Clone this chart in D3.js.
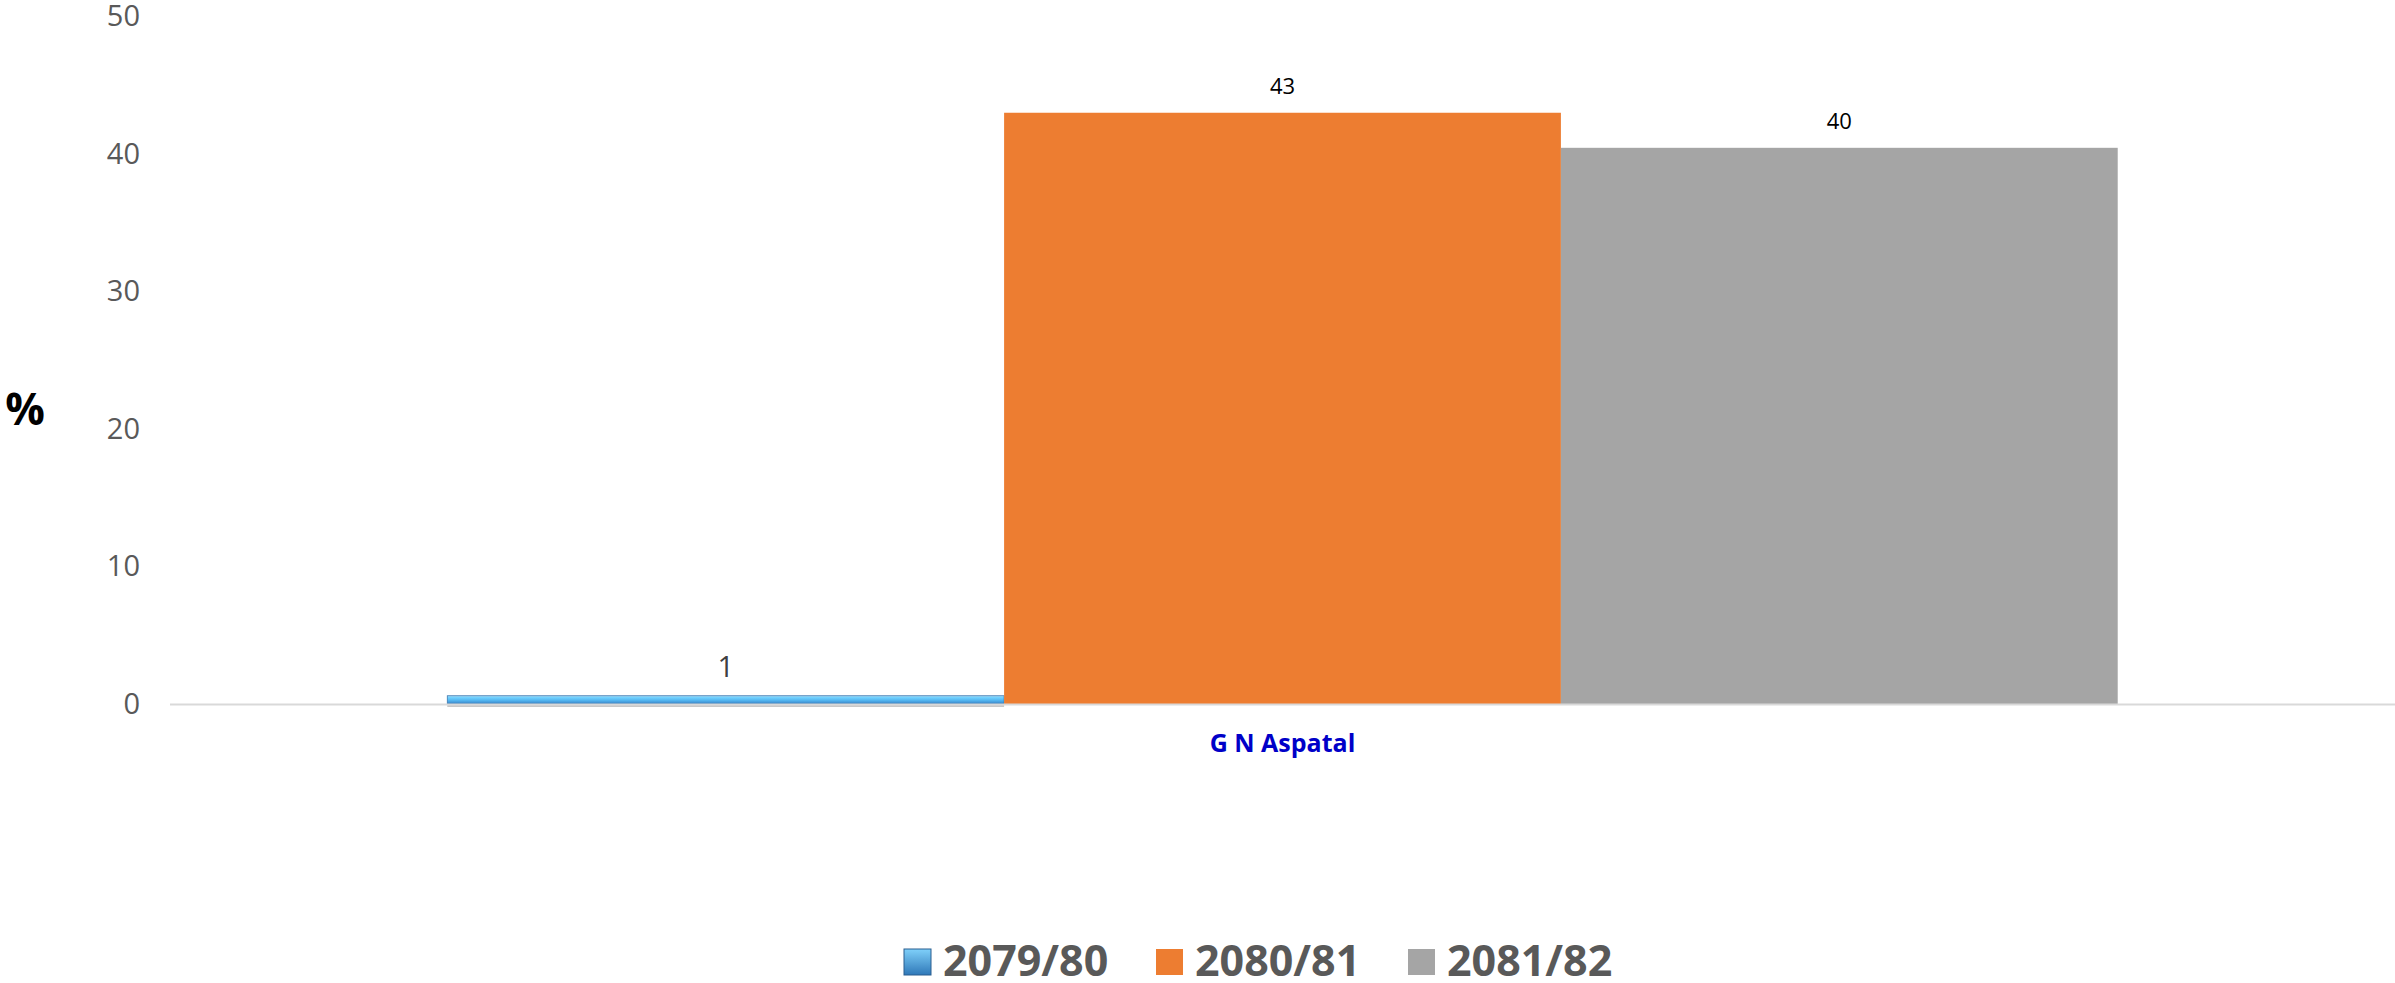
<!DOCTYPE html>
<html>
<head>
<meta charset="utf-8">
<script src="https://cdn.jsdelivr.net/npm/d3@7"></script>
<style>
  html, body { margin: 0; padding: 0; background: #fff; }
  svg { display: block; }
</style>
</head>
<body>
<svg id="chart" width="2395" height="983"></svg>
<script>
// data
var categories = ["G N Aspatal"];
var seriesNames = ["2079/80", "2080/81", "2081/82"];
var seriesValues = [0.6, 43.0, 40.45];
var seriesColors = ["url(#blueGrad)", "#ED7D31", "#A5A5A5"];
var yTicks = [0, 10, 20, 30, 40, 50];

var svg = d3.select("#chart");

// gradient for the first series (bevelled blue look)
var defs = svg.append("defs");
var g1 = defs.append("linearGradient").attr("id", "blueGrad")
  .attr("x1", 0).attr("y1", 0).attr("x2", 0).attr("y2", 1);
g1.append("stop").attr("offset", "0%").attr("stop-color", "#b5dcf2");
g1.append("stop").attr("offset", "20%").attr("stop-color", "#72d2ff");
g1.append("stop").attr("offset", "60%").attr("stop-color", "#4fb2ee");
g1.append("stop").attr("offset", "100%").attr("stop-color", "#3a7ebf");

var g2 = defs.append("linearGradient").attr("id", "blueLegend")
  .attr("x1", 0).attr("y1", 0).attr("x2", 0).attr("y2", 1);
g2.append("stop").attr("offset", "0%").attr("stop-color", "#7fd0fa");
g2.append("stop").attr("offset", "100%").attr("stop-color", "#2f78b8");

var plotLeft = 170, plotRight = 2395, baseY = 704, topY = 16.5;

var y = d3.scaleLinear().domain([0, 50]).range([baseY, topY]);
var x = d3.scaleBand().domain(categories).range([plotLeft, plotRight])
  .paddingInner(0).paddingOuter(0.166);
var xs = d3.scaleBand().domain(seriesNames).range([0, x.bandwidth()]).padding(0);

// y tick labels (no axis line)
var yAxis = d3.axisLeft(y).tickValues(yTicks).tickSize(0).tickPadding(0);
var ya = svg.append("g").attr("transform", "translate(140,0)").call(yAxis);
ya.select(".domain").remove();
ya.selectAll("text")
  .attr("font-family", "'Open Sans', sans-serif")
  .attr("font-size", 29)
  .attr("fill", "#595959");

// % title
svg.append("text")
  .attr("x", 25).attr("y", 425)
  .attr("text-anchor", "middle")
  .attr("font-family", "'Open Sans', sans-serif")
  .attr("font-weight", "bold")
  .attr("font-size", 44)
  .attr("fill", "#000")
  .text("%");

// bars
var data = seriesNames.map(function(s, i) {
  return { cat: categories[0], series: s, value: seriesValues[i], color: seriesColors[i] };
});

// soft shadow under the first bar
svg.append("rect")
  .attr("x", x(categories[0]) + xs(seriesNames[0]))
  .attr("y", baseY)
  .attr("width", xs.bandwidth())
  .attr("height", 3)
  .attr("fill", "#c8c8c8");

svg.selectAll("rect.bar")
  .data(data)
  .enter()
  .append("rect")
  .attr("class", "bar")
  .attr("x", function(d) { return x(d.cat) + xs(d.series); })
  .attr("y", function(d) { return y(d.value); })
  .attr("width", xs.bandwidth())
  .attr("height", function(d) { return baseY - y(d.value); })
  .attr("fill", function(d) { return d.color; })
  .attr("stroke", function(d, i) { return i === 0 ? "#3a78b0" : "none"; })
  .attr("stroke-width", 0.8);

// x axis line
svg.append("line")
  .attr("x1", plotLeft).attr("x2", plotRight)
  .attr("y1", baseY + 0.5).attr("y2", baseY + 0.5)
  .attr("stroke", "#d9d9d9").attr("stroke-width", 2);

// data labels
svg.selectAll("text.lbl")
  .data(data)
  .enter()
  .append("text")
  .attr("class", "lbl")
  .attr("x", function(d) { return x(d.cat) + xs(d.series) + xs.bandwidth() / 2; })
  .attr("y", function(d) { return y(d.value) - 19; })
  .attr("text-anchor", "middle")
  .attr("font-family", "'Open Sans', sans-serif")
  .attr("font-size", function(d, i) { return i === 0 ? 29 : 22; })
  .attr("fill", function(d, i) { return i === 0 ? "#404040" : "#000"; })
  .text(function(d) { return Math.round(d.value); });

// category label
svg.selectAll("text.cat")
  .data(categories)
  .enter()
  .append("text")
  .attr("class", "cat")
  .attr("x", function(d) { return x(d) + x.bandwidth() / 2; })
  .attr("y", 752)
  .attr("text-anchor", "middle")
  .attr("font-family", "'Open Sans', sans-serif")
  .attr("font-weight", "bold")
  .attr("font-size", 25)
  .attr("fill", "#0000c8")
  .text(function(d) { return d; });

// legend
var legend = svg.selectAll("g.leg")
  .data(seriesNames)
  .enter()
  .append("g")
  .attr("class", "leg")
  .attr("transform", function(d, i) { return "translate(" + (904 + i * 252) + ",949)"; });

legend.append("rect")
  .attr("width", 27).attr("height", 26)
  .attr("fill", function(d, i) { return i === 0 ? "url(#blueLegend)" : seriesColors[i]; })
  .attr("stroke", function(d, i) { return i === 0 ? "#2a5f90" : "none"; });

legend.append("text")
  .attr("x", 39).attr("y", 27)
  .attr("font-family", "'Open Sans', sans-serif")
  .attr("font-weight", "bold")
  .attr("font-size", 43)
  .attr("fill", "#595959")
  .text(function(d) { return d; });
</script>
</body>
</html>
